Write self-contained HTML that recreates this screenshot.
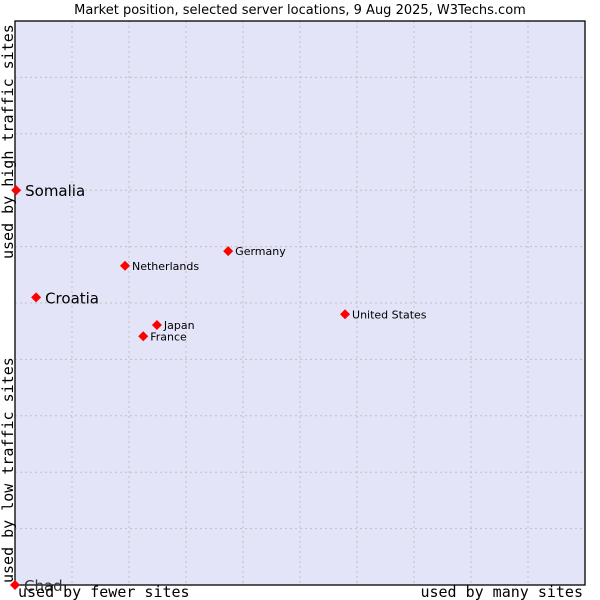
<!DOCTYPE html>
<html><head><meta charset="utf-8"><style>
body{margin:0;background:#fff}
svg{display:block;font-family:"DejaVu Sans","Liberation Sans",sans-serif}
.mono{font-family:"DejaVu Sans Mono","Liberation Mono",monospace}
</style></head><body>
<svg id="chart" width="600" height="600">
<text x="300" y="14" text-anchor="middle" font-size="13" fill="#000">Market position, selected server locations, 9 Aug 2025, W3Techs.com</text>
<rect x="15" y="21" width="570" height="564" fill="#e3e4f8"/>
<g id="grid"></g>
<rect x="15" y="21" width="570" height="564" fill="none" stroke="#000" stroke-width="1.3"/>
<g id="points"></g>
<text class="mono" x="18" y="597" font-size="15">used by fewer sites</text>
<text class="mono" x="583" y="597" font-size="15" text-anchor="end">used by many sites</text>
<text class="mono" transform="translate(13,583) rotate(-90)" font-size="15">used by low traffic sites</text>
<text class="mono" transform="translate(13,259) rotate(-90)" font-size="15">used by high traffic sites</text>
</svg>
<script>
const names=["Somalia","Croatia","Chad","Netherlands","Germany","Japan","France","United States"];
const xVals=[0.2,3.7,0,19.3,37.4,24.9,22.5,57.9];
const yVals=[70,51,0,56.6,59.2,46.1,44.1,48.0];
const big=[true,true,true,false,false,false,false,false];
const NS="http://www.w3.org/2000/svg";
const X0=15,W=570,Y0=585,H=564;
function sx(v){return X0+v/100*W;}
function sy(v){return Y0-v/100*H;}
const grid=document.getElementById('grid');
for(let i=1;i<10;i++){
 const l=document.createElementNS(NS,'line');
 
 
 l.setAttribute('x1',sx(i*10));l.setAttribute('x2',sx(i*10));l.setAttribute('y1',21);l.setAttribute('y2',585);
 l.setAttribute('stroke','#c0c0c0');l.setAttribute('stroke-dasharray','2,3');grid.appendChild(l);
 const m=document.createElementNS(NS,'line');
 
 
 m.setAttribute('y1',sy(i*10));m.setAttribute('y2',sy(i*10));m.setAttribute('x1',15);m.setAttribute('x2',585);
 m.setAttribute('stroke','#c0c0c0');m.setAttribute('stroke-dasharray','2,3');grid.appendChild(m);
}
const pg=document.getElementById('points');
names.forEach((n,i)=>{
 const x=sx(xVals[i]),y=sy(yVals[i]);
 const d=document.createElementNS(NS,'path');
 
 
 d.setAttribute('d',`M${x} ${y-5}L${x+5} ${y}L${x} ${y+5}L${x-5} ${y}Z`);
 d.setAttribute('fill','#f00');pg.appendChild(d);
 const t=document.createElementNS(NS,'text');
 
 
 t.setAttribute('x',x+(big[i]?9:7));t.setAttribute('y',y+(big[i]?6:4));
 t.setAttribute('font-size',big[i]?15:11);
 t.setAttribute('fill',n==="Chad"?'#333':'#000');
 t.textContent=n;pg.appendChild(t);
});
</script>
</body></html>
